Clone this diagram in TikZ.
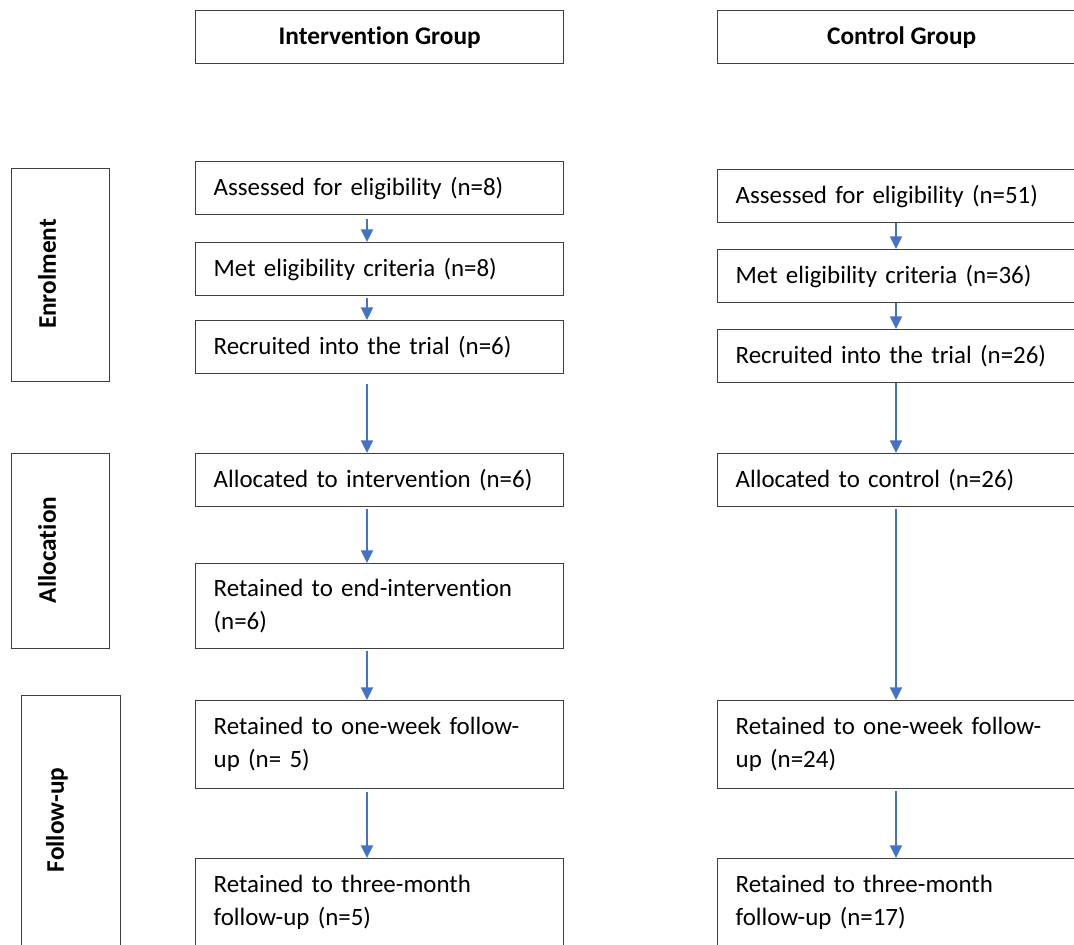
\documentclass[tikz,border=0pt]{standalone}
\usepackage{fontspec}
\setmainfont[Ligatures={NoCommon}]{Carlito}
\usetikzlibrary{arrows.meta}
\definecolor{arrowblue}{HTML}{4472C4}
\definecolor{framegray}{HTML}{3F3F3F}
\tikzset{
  px/.style={x=0.75pt,y=-0.75pt},
  stagebox/.style={draw=framegray,line width=1pt,fill=white,anchor=north west,
    inner xsep=13.5pt,inner ysep=0pt,text width=249pt,align=left,
    font=\fontsize{18.7}{24.75}\selectfont},
  headbox/.style={draw=framegray,line width=1pt,anchor=north west,
    minimum width=276pt,minimum height=39.75pt,inner sep=0pt,
    font=\fontsize{19}{24.75}\selectfont\bfseries},
  sidebox/.style={draw=framegray,line width=1pt,anchor=north west,inner sep=0pt},
  sidelabel/.style={rotate=90,inner sep=0pt,font=\fontsize{19}{24.75}\selectfont\bfseries},
  flow/.style={draw=arrowblue,line width=1.6pt,-{Triangle[width=9pt,length=9.5pt]}},
}
\begin{document}
\begin{tikzpicture}[px]
\useasboundingbox (0,0) rectangle (1074,945);
\clip (0,0) rectangle (1074,945);
% headers
\node[headbox] (hI) at (195,10) {Intervention Group};
\node[headbox] (hC) at (717,10) {Control Group};
% side boxes
\node[sidebox,minimum width=73.5pt,minimum height=159.75pt] (sE) at (11,168) {};
\node[sidebox,minimum width=73.5pt,minimum height=146.25pt] (sA) at (11,453) {};
\node[sidebox,minimum width=74.25pt,minimum height=188.25pt] (sF) at (21,695) {};
\node[sidelabel] (tE) at (47,274) {Enrolment};
\node[sidelabel] (tA) at (47,550) {Allocation};
\node[sidelabel] (tF) at (57,820) {Follow-up};
% left column
\node[stagebox,minimum height=39.75pt] (L1) at (195,161) {Assessed for eligibility (n=8)};
\node[stagebox,minimum height=39.75pt] (L2) at (195,242) {Met eligibility criteria (n=8)};
\node[stagebox,minimum height=39.75pt] (L3) at (195,320) {Recruited into the trial (n=6)};
\node[stagebox,minimum height=39.75pt] (L4) at (195,453) {Allocated to intervention (n=6)};
\node[stagebox,minimum height=63.75pt] (L5) at (195,563) {Retained to end-intervention\\(n=6)};
\node[stagebox,minimum height=66pt] (L6) at (195,700) {Retained to one-week follow-\\up (n= 5)};
\node[stagebox,minimum height=66pt] (L7) at (195,858) {Retained to three-month\\follow-up (n=5)};
% right column
\node[stagebox,minimum height=39.75pt] (R1) at (717,169) {Assessed for eligibility (n=51)};
\node[stagebox,minimum height=39.75pt] (R2) at (717,249) {Met eligibility criteria (n=36)};
\node[stagebox,minimum height=39.75pt] (R3) at (717,329) {Recruited into the trial (n=26)};
\node[stagebox,minimum height=39.75pt] (R4) at (717,453) {Allocated to control (n=26)};
\node[stagebox,minimum height=66pt] (R6) at (717,700) {Retained to one-week follow-\\up (n=24)};
\node[stagebox,minimum height=66pt] (R7) at (717,858) {Retained to three-month\\follow-up (n=17)};
% arrow axes
\coordinate (axL) at (367,0);
\coordinate (axR) at (896,0);
% left arrows
\draw[flow,shorten <=3pt] (L1.south -| axL) -- (L2.north -| axL);
\draw[flow,shorten <=1pt] (L2.south -| axL) -- (L3.north -| axL);
\draw[flow,shorten <=7.5pt] (L3.south -| axL) -- (L4.north -| axL);
\draw[flow,shorten <=1.5pt] (L4.south -| axL) -- (L5.north -| axL);
\draw[flow,shorten <=1.5pt] (L5.south -| axL) -- (L6.north -| axL);
\draw[flow,shorten <=2pt] (L6.south -| axL) -- (L7.north -| axL);
% right arrows
\draw[flow] (R1.south -| axR) -- (R2.north -| axR);
\draw[flow] (R2.south -| axR) -- (R3.north -| axR);
\draw[flow] (R3.south -| axR) -- (R4.north -| axR);
\draw[flow,shorten <=1.5pt] (R4.south -| axR) -- (R6.north -| axR);
\draw[flow,shorten <=1.5pt] (R6.south -| axR) -- (R7.north -| axR);
\end{tikzpicture}
\end{document}
